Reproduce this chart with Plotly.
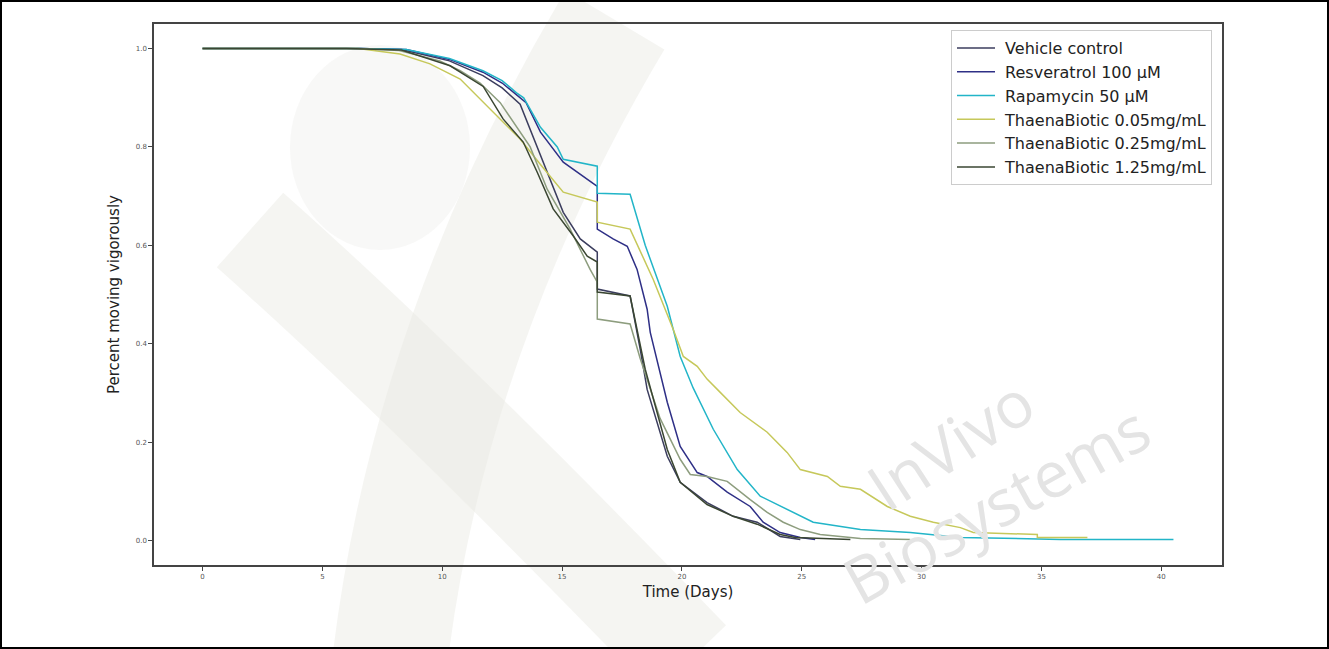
import plotly.graph_objects as go

# ---------------- data ----------------
series_names = [
    "Vehicle control",
    "Resveratrol 100 µM",
    "Rapamycin 50 µM",
    "ThaenaBiotic 0.05mg/mL",
    "ThaenaBiotic 0.25mg/mL",
    "ThaenaBiotic 1.25mg/mL",
]

vehicle_days = [0, 6.5, 8.3, 10.3, 11.7, 12.5, 13.25, 13.67, 14.5, 15.05, 15.76, 16.47, 16.47, 17.84,
                18.26, 18.55, 19.39, 19.93, 21.05, 22.14, 23.14, 24.10, 24.94]
vehicle_vals = [1.0, 1.0, 0.998, 0.975, 0.945, 0.92, 0.887, 0.836, 0.735, 0.667, 0.613, 0.586, 0.511, 0.497,
                0.389, 0.307, 0.171, 0.118, 0.077, 0.049, 0.037, 0.008, 0.002]

resv_days = [0, 6.5, 8.5, 10.3, 11.7, 12.5, 13.13, 13.5, 14.1, 15.05, 16.47, 16.47, 17.13, 17.72, 18.13,
             18.55, 18.68, 19.39, 19.93, 20.64, 21.05, 21.89, 22.85, 23.39, 24.10, 24.94, 25.56]
resv_vals = [1.0, 1.0, 0.998, 0.978, 0.952, 0.93, 0.905, 0.89, 0.83, 0.769, 0.72, 0.633, 0.613, 0.598, 0.551,
             0.47, 0.423, 0.281, 0.191, 0.138, 0.13, 0.098, 0.069, 0.037, 0.016, 0.006, 0.002]

rapa_days = [0, 6.5, 8.5, 10.3, 11.7, 12.5, 13.1, 13.4, 14.1, 14.8, 15.05, 16.47, 16.47, 17.84, 18.47,
             19.39, 19.93, 20.47, 21.31, 22.31, 23.27, 24.39, 25.48, 27.45, 29.53, 31.62, 35.79, 40.51]
rapa_vals = [1.0, 1.0, 0.998, 0.98, 0.955, 0.935, 0.91, 0.90, 0.84, 0.80, 0.775, 0.761, 0.706, 0.704, 0.60,
             0.476, 0.374, 0.31, 0.226, 0.144, 0.09, 0.063, 0.037, 0.022, 0.016, 0.006, 0.002, 0.002]

tb005_days = [0, 6.5, 8.24, 9.49, 10.75, 11.58, 12.42, 13.25, 14.09, 15.05, 16.47, 16.47, 17.84, 18.80,
              19.64, 20.06, 20.64, 21.05, 21.60, 22.43, 23.56, 24.39, 24.94, 26.07, 26.61, 27.45, 28.57,
              29.53, 30.49, 31.62, 32.16, 34.83, 34.83, 36.92]
tb005_vals = [1.0, 1.0, 0.989, 0.969, 0.938, 0.897, 0.857, 0.816, 0.765, 0.708, 0.688, 0.647, 0.633, 0.531,
              0.429, 0.374, 0.354, 0.328, 0.301, 0.26, 0.22, 0.179, 0.144, 0.13, 0.11, 0.104, 0.069,
              0.049, 0.037, 0.026, 0.016, 0.012, 0.006, 0.006]

tb025_days = [0, 6.5, 8.2, 9.9, 10.75, 11.58, 12.42, 13.67, 14.38, 15.34, 16.17, 16.47, 16.47, 17.84, 18.26,
              19.09, 19.93, 20.35, 21.05, 21.89, 22.85, 23.56, 24.23, 24.94, 25.77, 27.45, 29.53]
tb025_vals = [1.0, 1.0, 0.996, 0.975, 0.955, 0.93, 0.89, 0.80, 0.714, 0.633, 0.551, 0.525, 0.45, 0.44, 0.37,
              0.248, 0.165, 0.134, 0.13, 0.12, 0.083, 0.057, 0.037, 0.022, 0.012, 0.004, 0.002]

tb125_days = [0, 6.0, 8.3, 10.33, 11.71, 12.54, 13.38, 13.96, 14.63, 15.47, 16.05, 16.47, 16.47, 17.84,
              18.47, 19.39, 19.93, 21.05, 22.14, 23.14, 24.10, 24.73, 27.03]
tb125_vals = [1.0, 1.0, 0.997, 0.965, 0.923, 0.857, 0.81, 0.749, 0.674, 0.619, 0.578, 0.566, 0.505, 0.497,
              0.348, 0.185, 0.118, 0.073, 0.049, 0.033, 0.012, 0.006, 0.002]

x_ticks = [0, 5, 10, 15, 20, 25, 30, 35, 40]
y_ticks = [0.0, 0.2, 0.4, 0.6, 0.8, 1.0]

colors = ["#3b3d5e", "#2e2f86", "#22b5c8", "#c6c85a", "#8d9d7e", "#3a4632"]

all_days = [vehicle_days, resv_days, rapa_days, tb005_days, tb025_days, tb125_days]
all_vals = [vehicle_vals, resv_vals, rapa_vals, tb005_vals, tb025_vals, tb125_vals]

# ---------------- figure ----------------
W, H = 1329, 649
ML, MR, MT, MB = 154, 107, 24, 84
PW, PH = W - ML - MR, H - MT - MB

fig = go.Figure()
for name, d, v, c in zip(series_names, all_days, all_vals, colors):
    fig.add_trace(go.Scatter(x=d, y=v, mode="lines", name="\u00a0" + name,
                             line=dict(color=c, width=1.5)))

xmax = max(max(d) for d in all_days)
xpad = 0.05 * xmax


def px(x):
    return (x - ML) / PW


def py(y):
    return (H - MB - y) / PH


shapes = []
# faint watermark ribbons
wm = "rgba(232,232,226,0.45)"
shapes.append(dict(type="path", xref="paper", yref="paper", layer="below",
                   path=f"M {px(615)},{py(20)} Q {px(430)},{py(330)} {px(390)},{py(660)}",
                   line=dict(color=wm, width=115)))
shapes.append(dict(type="path", xref="paper", yref="paper", layer="below",
                   path=f"M {px(250)},{py(230)} Q {px(430)},{py(390)} {px(690)},{py(660)}",
                   line=dict(color=wm, width=100)))
shapes.append(dict(type="circle", xref="paper", yref="paper", layer="below",
                   x0=px(290), x1=px(470), y0=py(250), y1=py(45),
                   fillcolor="rgba(236,236,231,0.35)", line=dict(width=0)))
# outer frame
shapes.append(dict(type="rect", xref="paper", yref="paper",
                   x0=px(0), x1=px(W), y0=py(H), y1=py(0),
                   line=dict(color="black", width=4), layer="above"))

annotations = [
    dict(text="InVivo", xref="paper", yref="paper", x=px(950), y=py(443),
         xanchor="center", yanchor="middle",
         showarrow=False, textangle=-33, font=dict(family="Open Sans", size=64, color="#e4e4e4")),
    dict(text="Biosystems", xref="paper", yref="paper", x=px(996), y=py(503),
         xanchor="center", yanchor="middle",
         showarrow=False, textangle=-29, font=dict(family="Open Sans", size=64, color="#e4e4e4")),
]

fig.update_layout(
    width=W, height=H, autosize=False,
    margin=dict(l=ML, r=MR, t=MT, b=MB),
    paper_bgcolor="white", plot_bgcolor="white",
    font=dict(family="DejaVu Sans", color="#222"),
    shapes=shapes, annotations=annotations,
    legend=dict(x=px(1212), y=py(30), xanchor="right", yanchor="top",
                bgcolor="rgba(255,255,255,0.85)", bordercolor="#cccccc", borderwidth=1,
                font=dict(family="DejaVu Sans", size=16, color="#222"),
                itemwidth=38, tracegroupgap=0),
    xaxis=dict(range=[-xpad, xmax + xpad], tickvals=x_ticks, ticktext=[str(t) for t in x_ticks],
               showgrid=False, zeroline=False, showline=True, linecolor="#444", linewidth=1.5,
               mirror=True, ticks="outside", ticklen=4, tickcolor="#444",
               tickfont=dict(size=7, color="#555"),
               title=dict(text="Time (Days)", font=dict(size=15, color="#222"), standoff=6)),
    yaxis=dict(range=[-0.05, 1.05], tickvals=y_ticks, ticktext=[f"{t:.1f}" for t in y_ticks],
               showgrid=False, zeroline=False, showline=True, linecolor="#444", linewidth=1.5,
               mirror=True, ticks="outside", ticklen=4, tickcolor="#444",
               tickfont=dict(size=7, color="#555"),
               title=dict(text="Percent moving vigorously", font=dict(size=15, color="#222"), standoff=12)),
)

fig.write_html("out.html", post_script="document.body.style.margin='0';",
               config={"displayModeBar": False})
